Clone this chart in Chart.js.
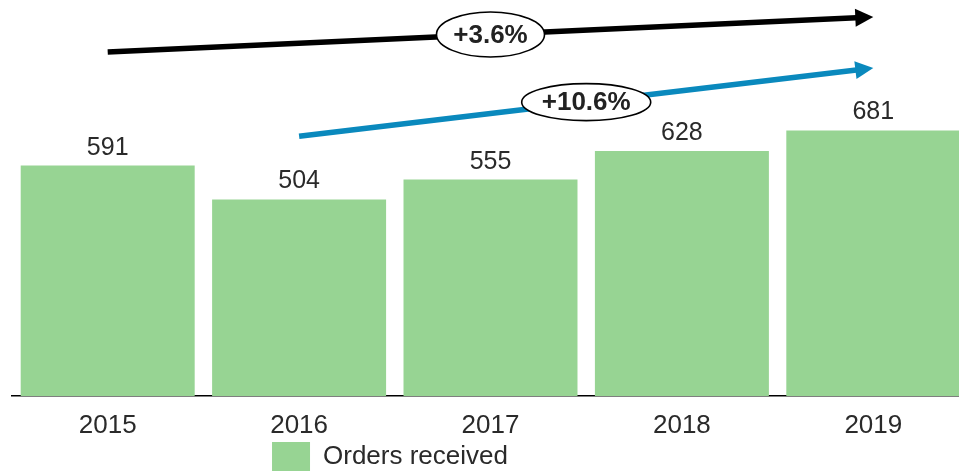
<!DOCTYPE html>
<html><head><meta charset="utf-8">
<script src="https://cdn.jsdelivr.net/npm/chart.js@4/dist/chart.umd.min.js"></script>
<style>
html,body{margin:0;padding:0;background:#fff;overflow:hidden;}
#wrap{width:959px;height:472px;overflow:hidden;position:relative;}
canvas{display:block;}
</style></head><body>
<div id="wrap"><canvas id="c" width="970" height="498" style="width:970px;height:498px"></canvas></div>
<script>
// ---- data ----
const categories = ['2015', '2016', '2017', '2018', '2019'];
const ordersReceived = [591, 504, 555, 628, 681];
const seriesLabel = 'Orders received';

// trend arrows (category index / value units)
const trendLabels = ['+3.6%', '+10.6%'];
const trendStartIndex = [0, 1];
const trendStartValue = [882, 666];
const trendEndIndex = [4, 4];
const trendEndValue = [972, 841];

// ---- styles ----
const FONT = "'Liberation Sans', Arial, sans-serif";
const TEXT = '#2a2a2a';
const trendColors = ['#000000', '#0a89bd'];
const trendEllipseRx = [54, 64.5];
const trendEllipseRy = [22.5, 18.5];
const legendCenterX = 390;
const legendTopY = 439;

const overlay = {
  id: 'overlay',
  afterUpdate(chart) {
    const lg = chart.legend;
    if (lg) {
      const dx = legendCenterX - (lg.left + lg.right) / 2;
      lg.left += dx; lg.right += dx;
      const dy = legendTopY - lg.top;
      lg.top += dy; lg.bottom += dy;
    }
  },
  afterDatasetsDraw(chart) {
    const ctx = chart.ctx;
    const meta = chart.getDatasetMeta(0);
    ctx.save();
    ctx.font = '25px ' + FONT;
    ctx.fillStyle = TEXT;
    ctx.textAlign = 'center';
    ctx.textBaseline = 'alphabetic';
    meta.data.forEach((bar, i) => {
      ctx.fillText(String(ordersReceived[i]), bar.x, bar.y - 11);
    });
    ctx.restore();
  },
  afterDraw(chart) {
    const ctx = chart.ctx;
    const xs = chart.scales.x, ys = chart.scales.y;
    trendLabels.forEach((lab, k) => {
      const x0 = xs.getPixelForValue(trendStartIndex[k]);
      const y0 = ys.getPixelForValue(trendStartValue[k]);
      const x1 = xs.getPixelForValue(trendEndIndex[k]);
      const y1 = ys.getPixelForValue(trendEndValue[k]);
      const ang = Math.atan2(y1 - y0, x1 - x0);
      const headL = 18, headW = 9;
      const bx = x1 - headL * Math.cos(ang), by = y1 - headL * Math.sin(ang);
      ctx.save();
      ctx.strokeStyle = trendColors[k];
      ctx.fillStyle = trendColors[k];
      ctx.lineWidth = 5.5;
      ctx.lineCap = 'butt';
      ctx.beginPath(); ctx.moveTo(x0, y0); ctx.lineTo(bx + Math.cos(ang), by + Math.sin(ang)); ctx.stroke();
      ctx.beginPath();
      ctx.moveTo(x1, y1);
      ctx.lineTo(bx - headW * Math.sin(ang), by + headW * Math.cos(ang));
      ctx.lineTo(bx + headW * Math.sin(ang), by - headW * Math.cos(ang));
      ctx.closePath(); ctx.fill();
      const mx = (x0 + x1) / 2, my = (y0 + y1) / 2;
      ctx.beginPath();
      ctx.ellipse(mx, my, trendEllipseRx[k], trendEllipseRy[k], 0, 0, Math.PI * 2);
      ctx.fillStyle = '#ffffff'; ctx.fill();
      ctx.lineWidth = 1.6; ctx.strokeStyle = '#000000'; ctx.stroke();
      ctx.fillStyle = '#222222';
      ctx.font = 'bold 26px ' + FONT;
      ctx.textAlign = 'center';
      ctx.textBaseline = 'middle';
      ctx.fillText(lab, mx, my + 1);
      ctx.restore();
    });
  }
};

new Chart(document.getElementById('c'), {
  type: 'bar',
  data: {
    labels: categories,
    datasets: [{
      label: seriesLabel,
      data: ordersReceived,
      backgroundColor: '#97d493',
      borderWidth: 0,
      barPercentage: 0.909,
      categoryPercentage: 1
    }]
  },
  options: {
    responsive: false,
    animation: false,
    devicePixelRatio: 1,
    layout: { padding: { left: 12, right: 1, top: 6, bottom: 0 } },
    scales: {
      x: {
        grid: { display: false, drawTicks: false },
        border: { display: true, color: '#000000', width: 1.5 },
        ticks: { color: TEXT, font: { family: FONT, size: 26, lineHeight: 1.0 }, padding: 17 }
      },
      y: { display: false, min: 0, max: 1000 }
    },
    plugins: {
      legend: {
        position: 'bottom',
        labels: { boxWidth: 38, boxHeight: 29, padding: 3, color: TEXT, font: { family: FONT, size: 26 } }
      },
      tooltip: { enabled: false }
    }
  },
  plugins: [overlay]
});
</script>
</body></html>
